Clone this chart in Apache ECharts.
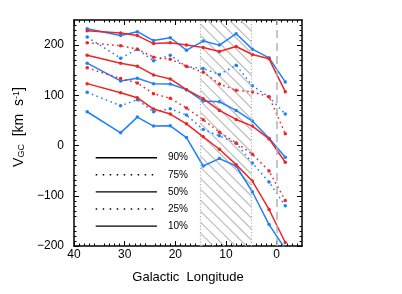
<!DOCTYPE html>
<html><head><meta charset="utf-8">
<script src="https://cdn.jsdelivr.net/npm/echarts@6/dist/echarts.min.js"></script>
<style>html,body{margin:0;padding:0;background:#fff}#c{width:402px;height:294px}</style>
</head><body><div id="c"></div>
<script>
// Galactic longitude of each sample
const longitudes = [37.4, 30.8, 27.5, 24.3, 21.0, 17.8, 14.5, 11.3, 8.0, 4.8, 1.5, -1.7];
// Blue percentiles
const blue90 = [232.7, 219, 226.7, 209, 214.7, 190, 208, 200, 222.7, 192, 174.7, 126.7];
const blue75 = [216, 174, 192, 168.7, 180, 157.3, 153.3, 141.3, 160, 119.3, 96.7, 62.7];
const blue50 = [164, 128.7, 134, 123.3, 122.7, 111.3, 88.7, 87.3, 70, 48.7, 14.7, -23.3];
const blue25 = [106, 79.3, 91.3, 67.3, 73.3, 60.7, 32, 19.3, 4.7, -34.7, -72.7, -120];
const blue10 = [67.3, 25.3, 56.7, 38.7, 39.3, 16, -40.7, -26, -40.7, -92, -157.3, -206];
// Red percentiles
const red90 = [228.7, 224, 219, 203, 204.7, 200, 195.3, 187.3, 197.3, 181.3, 172.7, 107.3];
const red75 = [204.7, 198.7, 192, 176, 172, 158, 146, 122.7, 110, 106.7, 97.3, 23.3];
const red50 = [180, 164, 158, 140.7, 132.7, 111.3, 93.3, 70, 52, 38.7, 13.3, -33.3];
const red25 = [154.7, 133.3, 124.7, 103.3, 94, 74.7, 51.3, 26.7, 5.3, -17.3, -50.7, -109.3];
const red10 = [123.3, 105.3, 95.3, 72.7, 62.7, 43.3, 17.3, -7.3, -38, -70.7, -127.3, -193];
// Axes ticks
const xTicks = [0, 10, 20, 30, 40];
const yTicks = [-200, -100, 0, 100, 200];
// Hatched region and reference lines
const hatchRange = [15, 5];
const zeroLine = 0;
// Legend
const legendLabels = ['90%', '75%', '50%', '25%', '10%'];
const legendDotted = [false, true, false, true, false];

const BLUE = '#2080f8', RED = '#f02424';
const FONT = 'Liberation Sans';

function mk(name, vals, color, dotted, z) {
  return {
    type: 'line', name, z,
    data: longitudes.map((x, i) => [x, vals[i]]),
    symbol: 'circle', symbolSize: 3.5, showSymbol: true,
    itemStyle: { color },
    lineStyle: { color, width: 1.5, type: dotted ? [1.6, 3.4] : 'solid' },
    clip: true, animation: false
  };
}

const minus = v => String(v).replace('-', '\u2212');

const baseX = {
  type: 'value', min: -5, max: 40, interval: 5, inverse: true,
  axisLine: { show: true, onZero: false, lineStyle: { color: '#000', width: 1.5 } },
  axisTick: { show: true, inside: true, length: 5, customValues: xTicks, lineStyle: { color: '#000', width: 1 } },
  minorTick: { show: true, splitNumber: 5, length: 2.5, lineStyle: { color: '#000', width: 1 } },
  splitLine: { show: false }, minorSplitLine: { show: false }
};
const baseY = {
  type: 'value', min: -200, max: 250, interval: 50,
  axisLine: { show: true, onZero: false, lineStyle: { color: '#000', width: 1.5 } },
  axisTick: { show: true, inside: true, length: 5, customValues: yTicks, lineStyle: { color: '#000', width: 1 } },
  minorTick: { show: true, splitNumber: 5, length: 2.5, lineStyle: { color: '#000', width: 1 } },
  splitLine: { show: false }, minorSplitLine: { show: false }
};

const chart = echarts.init(document.getElementById('c'), null, { renderer: 'canvas' });

const legendGraphics = [];
legendLabels.forEach((lab, i) => {
  const y = 157.7 + i * 17.1;
  legendGraphics.push({
    type: 'line', shape: { x1: 95.7, y1: y, x2: 157, y2: y },
    style: { stroke: '#000', lineWidth: 1.4, lineDash: legendDotted[i] ? [1.5, 5.5] : null }
  });
  legendGraphics.push({
    type: 'text', x: 168, y: y,
    style: { text: lab, fill: '#000', font: '10px "' + FONT + '"', verticalAlign: 'middle', align: 'left' }
  });
});

chart.setOption({
  animation: false,
  backgroundColor: '#fff',
  grid: { left: 74, right: 100, top: 20, bottom: 48, containLabel: false },
  xAxis: [
    Object.assign({}, baseX, {
      position: 'bottom',
      axisLabel: { show: true, customValues: xTicks, margin: 3, fontFamily: FONT, fontSize: 12, color: '#000' },
      name: 'Galactic  Longitude', nameLocation: 'middle', nameGap: 25,
      nameTextStyle: { fontFamily: FONT, fontSize: 13, color: '#000' }
    }),
    Object.assign({}, baseX, { position: 'top', axisLabel: { show: false } })
  ],
  yAxis: [
    Object.assign({}, baseY, {
      position: 'left',
      axisLabel: { show: true, customValues: yTicks, margin: 10, fontFamily: FONT, fontSize: 12, color: '#000', formatter: minus },
      name: 'V{sub|GC}  [km  s{sup|-1}]', nameLocation: 'middle', nameGap: 42, nameRotate: 90,
      nameTextStyle: {
        fontFamily: FONT, fontSize: 14, color: '#000', padding: [0, 0, 0, 12],
        rich: {
          sub: { fontFamily: FONT, fontSize: 9, color: '#000', verticalAlign: 'bottom', lineHeight: 14 },
          sup: { fontFamily: FONT, fontSize: 9, color: '#000', verticalAlign: 'top', lineHeight: 14 }
        }
      }
    }),
    Object.assign({}, baseY, { position: 'right', axisLabel: { show: false } })
  ],
  graphic: legendGraphics,
  series: [
    {
      type: 'custom', z: 1, silent: true, clip: true,
      data: [[hatchRange[0], hatchRange[1]]],
      renderItem: function (params, api) {
        const cs = params.coordSys;
        const xa = api.coord([hatchRange[0], 0])[0];
        const xb = api.coord([hatchRange[1], 0])[0];
        const x0 = Math.min(xa, xb), x1 = Math.max(xa, xb);
        const y0 = cs.y, y1 = cs.y + cs.height;
        const step = 11;
        const children = [];
        for (let c = y0 - x1; c <= y1 - x0; c += step) {
          const s = Math.max(x0, y0 - c), e = Math.min(x1, y1 - c);
          if (s < e) children.push({
            type: 'line', shape: { x1: s, y1: s + c, x2: e, y2: e + c },
            style: { stroke: '#bdbdbd', lineWidth: 1.1 }
          });
        }
        return { type: 'group', children };
      },
      markLine: {
        silent: true, symbol: 'none', label: { show: false }, animation: false,
        data: [
          { xAxis: hatchRange[0], lineStyle: { color: '#b0b0b0', width: 1.2, type: [1.2, 2] } },
          { xAxis: hatchRange[1], lineStyle: { color: '#b0b0b0', width: 1.2, type: [1.2, 2] } },
          { xAxis: zeroLine, lineStyle: { color: '#b4b4b4', width: 1.5, type: [8, 5] } }
        ]
      }
    },
    mk('blue90', blue90, BLUE, false, 3),
    mk('blue75', blue75, BLUE, true, 3),
    mk('blue50', blue50, BLUE, false, 3),
    mk('blue25', blue25, BLUE, true, 3),
    mk('blue10', blue10, BLUE, false, 3),
    mk('red90', red90, RED, false, 4),
    mk('red75', red75, RED, true, 4),
    mk('red50', red50, RED, false, 4),
    mk('red25', red25, RED, true, 4),
    mk('red10', red10, RED, false, 4)
  ]
});
</script></body></html>
